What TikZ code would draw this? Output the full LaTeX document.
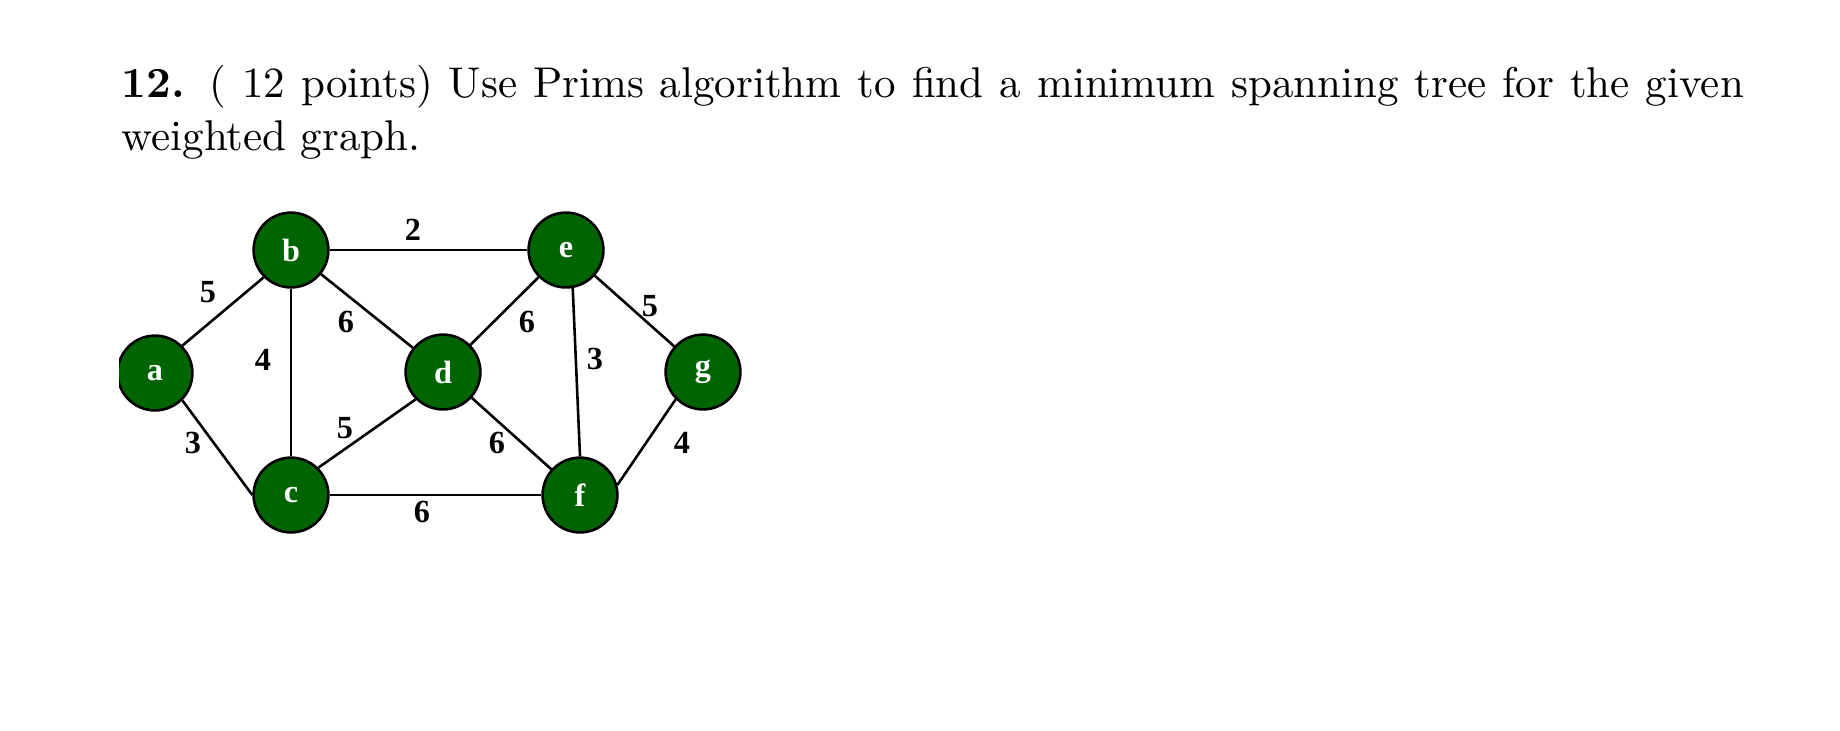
\documentclass[tikz,border=0pt]{standalone}
\usepackage{fontspec}
\newfontfamily\graphfont{Liberation Serif}
\definecolor{nodegreen}{RGB}{0,100,0}
\tikzset{
  vertex/.style={circle, draw=black, line width=.6pt, fill=nodegreen, minimum size=17.4pt,
    inner sep=0pt, text=white, font=\graphfont\bfseries\fontsize{7.5}{8}\selectfont},
  weight/.style={inner sep=0pt, font=\graphfont\bfseries\fontsize{7.5}{8}\selectfont},
  edge/.style={line width=.6pt}
}

\begin{document}
\begin{tikzpicture}[x=0.2326pt,y=-0.2326pt]
  \useasboundingbox (0,0) rectangle (1840,730);
  % question text
  \node [anchor=base west, inner sep=0pt] (qone) at (121,97)
    {\hbox to 377.3pt{\textbf{12.} ( 12 points) Use Prims algorithm to find a minimum spanning tree for the given}};
  \node [anchor=base west, inner sep=0pt] (qtwo) at (121,150) {weighted graph.};
  % the graph image is cut on its left side
  \begin{scope}
  \clip (119,150) rectangle (800,560);
  % vertices
  \node [vertex] (a) at (155,373) {a};
  \node [vertex] (b) at (291,250) {b};
  \node [vertex] (c) at (291,495) {c};
  \node [vertex] (d) at (443,372) {d};
  \node [vertex] (e) at (566,250) {e};
  \node [vertex] (f) at (580,495) {f};
  \node [vertex] (g) at (703,372) {g};
  % edges
  \draw [edge] (a.45) -- (b.225);
  \draw [edge] (a.south east) -- (c.west);
  \draw [edge] (b) -- (c);
  \draw [edge] (b) -- (d);
  \draw [edge] (b) -- (e);
  \draw [edge] (d.225) -- (c.45);
  \draw [edge] (c) -- (f);
  \draw [edge] (d) -- (e);
  \draw [edge] (d) -- (f);
  \draw [edge] (e.-80) -- (f.north);
  \draw [edge] (e) -- (g);
  \draw [edge] (f.15) -- (g.225);
  \end{scope}
  % weights
  \node [weight] (wab) at (208,292) {5};
  \node [weight] (wac) at (193,443) {3};
  \node [weight] (wbc) at (263,360) {4};
  \node [weight] (wbd) at (346,322) {6};
  \node [weight] (wbe) at (413,230) {2};
  \node [weight] (wcd) at (345,428) {5};
  \node [weight] (wcf) at (422,512) {6};
  \node [weight] (wde) at (527,322) {6};
  \node [weight] (wdf) at (497,443) {6};
  \node [weight] (wef) at (595,359) {3};
  \node [weight] (weg) at (650,306) {5};
  \node [weight] (wfg) at (682,443) {4};
\end{tikzpicture}
\end{document}
